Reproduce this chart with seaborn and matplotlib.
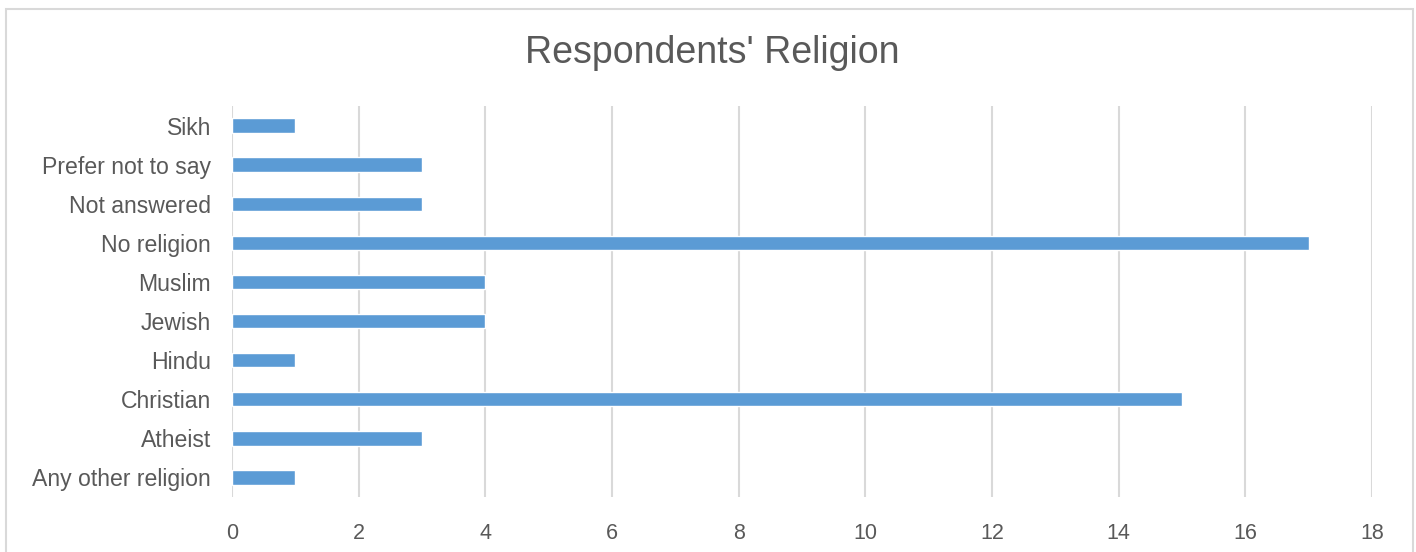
import matplotlib
matplotlib.use("Agg")
import matplotlib.pyplot as plt
from matplotlib.patches import Rectangle
import seaborn as sns
import pandas as pd

# Survey counts by stated religion (top to bottom)
religions = ["Sikh", "Prefer not to say", "Not answered", "No religion", "Muslim",
             "Jewish", "Hindu", "Christian", "Atheist", "Any other religion"]
counts = [1, 3, 3, 17, 4, 4, 1, 15, 3, 1]
x_ticks = [0, 2, 4, 6, 8, 10, 12, 14, 16, 18]

df = pd.DataFrame({"religion": religions, "count": counts})

sns.set_theme(style="white")
plt.rcParams["font.family"] = ["Liberation Sans", "DejaVu Sans"]

text_color = "#595959"
grid_color = "#D9D9D9"
bar_color = "#5B9BD5"

fig = plt.figure(figsize=(14.16, 5.52), dpi=100)
ax = fig.add_axes([232 / 1416, 1 - 497 / 552, (1372 - 232) / 1416, (497 - 106) / 552])

sns.barplot(data=df, x="count", y="religion", order=religions, color=bar_color,
            width=0.37, saturation=1, ax=ax, zorder=3)

ax.set_xlim(0, 18)
ax.set_xticks(x_ticks)
ax.set_xticklabels([str(t) for t in x_ticks])
ax.xaxis.grid(True, color=grid_color, linewidth=1.5, zorder=0)
ax.yaxis.grid(False)
for s in ax.spines.values():
    s.set_visible(False)
ax.set_xlabel("")
ax.set_ylabel("")
ax.tick_params(axis="y", length=0, pad=15, labelsize=16.6, labelcolor=text_color)
ax.tick_params(axis="x", length=0, pad=19, labelsize=15.5, labelcolor=text_color)

fig.text(712 / 1416, 1 - 53 / 552, "Respondents' Religion", ha="center", va="center",
         fontsize=27, color=text_color)

# Outer chart frame
fig.patches.append(Rectangle((6 / 1416, -0.05), (1413 - 6) / 1416, 1.05 - 9 / 552,
                             transform=fig.transFigure, fill=False,
                             edgecolor=grid_color, linewidth=1.5, zorder=0))

fig.savefig("out.png", dpi=100, facecolor="white")
